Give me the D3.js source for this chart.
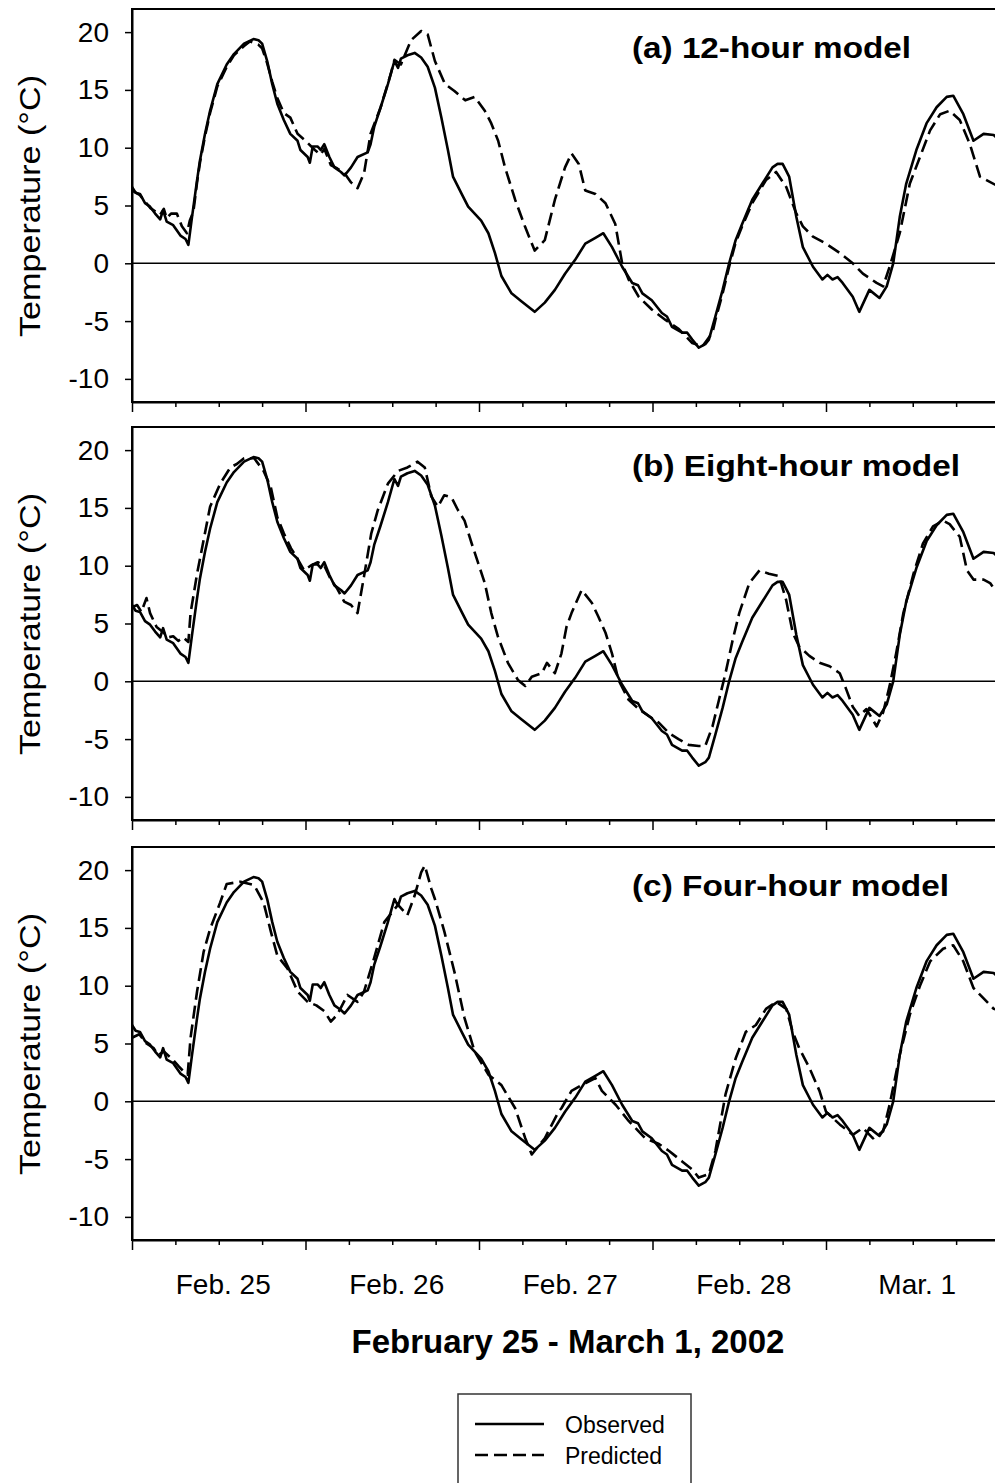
<!DOCTYPE html>
<html><head><meta charset="utf-8">
<script src="https://cdn.jsdelivr.net/npm/d3@7"></script>
<style>
body{margin:0;background:#fff;}
svg text{font-family:"Liberation Sans",Arial,Helvetica,sans-serif;fill:#000;}
</style>
</head><body>
<svg id="chart" width="995" height="1483"></svg>
<script>
// ---------- data: [hour since Feb 25 00:00, temperature °C] ----------
const observed = [[0,6.6],[0.5,6.1],[1.1,6.0],[1.8,5.2],[2.5,4.9],[3.2,4.3],[3.9,3.8],[4.3,4.6],[4.8,3.6],[5.7,3.3],[6.7,2.4],[7.4,2.1],[7.8,1.6],[8.3,4.0],[9.0,7.2],[9.4,8.9],[10.1,11.2],[10.8,13.2],[11.8,15.5],[13.1,17.2],[14.1,18.1],[15.5,19.0],[16.8,19.4],[17.5,19.3],[18.0,19.0],[18.7,17.5],[19.4,15.5],[20.1,13.8],[21.0,12.4],[21.9,11.2],[22.9,10.6],[23.3,9.8],[24.3,9.2],[24.6,8.7],[25.0,10.1],[25.7,10.1],[26.1,9.8],[26.6,10.3],[27.3,9.2],[28.0,8.3],[28.9,7.9],[29.4,7.6],[30.3,8.3],[31.2,9.2],[32.6,9.6],[33.0,10.3],[33.5,11.8],[34.4,13.5],[35.4,15.5],[36.3,17.5],[36.8,16.9],[37.2,17.7],[38.1,18.0],[39.1,18.2],[40.0,17.8],[40.9,17.0],[41.9,15.2],[42.8,12.6],[43.7,9.8],[44.4,7.5],[45.6,6.0],[46.5,4.9],[47.4,4.3],[48.3,3.7],[49.3,2.6],[50.2,0.9],[51.1,-1.1],[52.5,-2.6],[53.9,-3.3],[55.7,-4.2],[57.1,-3.4],[58.5,-2.3],[59.9,-0.9],[61.3,0.3],[62.7,1.7],[64.1,2.2],[65.2,2.6],[66.4,1.4],[67.8,-0.3],[69.2,-1.7],[70.0,-1.9],[70.6,-2.6],[71.9,-3.2],[73.3,-4.3],[74.0,-4.6],[74.7,-5.5],[76.1,-6.0],[76.8,-6.0],[77.5,-6.6],[78.4,-7.3],[79.3,-7.0],[79.8,-6.6],[80.7,-4.6],[81.7,-2.3],[82.6,0],[83.5,2.0],[84.4,3.4],[85.8,5.5],[87.2,6.9],[88.6,8.3],[89.3,8.6],[90.0,8.6],[90.5,8.0],[90.9,7.5],[91.9,4.0],[92.8,1.4],[94.2,-0.3],[95.5,-1.4],[96.2,-1.0],[96.9,-1.4],[97.6,-1.2],[98.3,-1.7],[99.7,-2.9],[100.6,-4.2],[102.0,-2.3],[103.4,-3.0],[104.4,-2.0],[105.3,0],[106.2,4.0],[107.1,6.9],[108.5,9.8],[109.9,12.1],[111.3,13.5],[112.7,14.4],[113.6,14.5],[115.0,12.9],[116.4,10.6],[117.8,11.2],[119.2,11.1],[120,10.6]];

const predicted12h = [[0,6.3],[1.1,5.9],[2.5,4.8],[3.9,4.2],[4.4,4.7],[4.8,3.9],[5.4,4.3],[6.2,4.3],[6.9,3.2],[7.6,2.6],[8.0,3.7],[8.5,4.5],[9.0,7.0],[9.4,8.7],[10.1,11.0],[10.8,13.0],[11.8,15.3],[13.1,17.0],[14.1,18.0],[15.5,18.8],[16.3,19.2],[17.5,18.9],[18.0,18.6],[18.7,17.3],[19.4,15.7],[20.1,14.3],[21.0,13.0],[21.9,12.6],[22.9,11.2],[24.0,10.6],[25.3,9.8],[26.1,9.4],[26.6,9.9],[27.5,8.5],[28.4,8.2],[29.4,7.8],[30.3,7.0],[31.2,6.5],[32.1,7.8],[33.0,11.2],[34.4,13.5],[35.8,16.4],[36.3,17.6],[37.2,17.2],[38.6,19.3],[40.0,20.1],[40.9,19.8],[41.9,17.5],[43.3,15.5],[44.6,14.9],[46.1,14.1],[47.4,14.4],[48.8,13.2],[49.7,12.1],[50.65,10.6],[51.6,8.3],[53.0,5.5],[54.35,3.2],[55.7,1.1],[57.1,2.0],[58.5,5.5],[59.9,8.3],[60.8,9.5],[61.8,8.6],[62.7,6.3],[64.1,6.0],[65.5,5.2],[66.85,3.4],[67.8,0],[68.7,-1.4],[70.1,-2.9],[71.9,-4.0],[73.8,-4.9],[75.65,-5.7],[77.5,-6.9],[78.9,-7.2],[80.3,-6.0],[80.7,-4.9],[81.7,-2.6],[82.6,-0.3],[83.5,1.8],[84.4,3.2],[85.8,5.2],[87.7,7.2],[89.1,7.9],[90.5,6.6],[91.9,4.3],[92.8,3.2],[94.2,2.3],[96.0,1.7],[97.9,0.9],[99.7,0],[101.1,-0.9],[103.0,-1.7],[103.9,-2.0],[104.8,-0.3],[106.2,2.6],[107.6,6.9],[109.0,9.2],[110.4,11.5],[111.8,12.9],[113.1,13.2],[114.5,12.4],[115.9,10.3],[117.3,7.5],[118.2,7.2],[120,6.6]];

const predicted8h = [[0,6.4],[0.7,6.6],[1.3,6.0],[2.0,7.2],[2.5,5.9],[3.4,4.7],[4.4,4.2],[5.0,3.8],[5.7,3.9],[6.4,3.5],[7.1,3.8],[7.8,3.4],[8.1,5.9],[9.0,9.3],[9.9,12.2],[10.8,15.1],[12.2,17.1],[13.6,18.5],[14.5,18.8],[15.5,19.3],[16.9,19.3],[18.2,18.2],[19.2,16.8],[20.1,14.2],[21.0,12.8],[22.0,11.5],[22.9,10.6],[23.8,9.6],[24.7,10.0],[25.7,10.3],[26.6,10.0],[27.5,8.8],[28.4,8.0],[29.35,6.9],[30.3,6.6],[31.2,5.9],[32.1,9.1],[33.1,12.8],[34.0,14.8],[35.4,17.1],[36.8,18.2],[38.1,18.5],[39.5,19.0],[40.5,18.5],[41.4,16.0],[42.3,15.1],[43.2,16.1],[44.2,15.9],[45.1,14.8],[46.0,13.9],[47.0,11.9],[47.9,10.2],[48.8,8.5],[49.7,5.9],[50.6,3.9],[52.0,1.6],[53.4,0.1],[54.4,-0.4],[55.3,0.4],[56.7,0.7],[57.4,1.6],[58.5,0.7],[59.4,2.4],[60.1,4.7],[60.8,5.9],[62.2,7.9],[63.6,6.8],[64.5,5.6],[65.5,4.2],[66.4,2.4],[67.3,0.1],[68.7,-1.6],[70.1,-2.4],[71.5,-3.0],[72.9,-3.6],[74.3,-4.5],[75.6,-5.0],[77.0,-5.5],[78.4,-5.6],[79.3,-5.6],[80.3,-3.9],[81.2,-1.6],[82.1,0.7],[83.1,3.6],[84.0,5.9],[85.4,8.5],[86.8,9.6],[88.1,9.3],[89.5,9.1],[90.5,7.0],[91.4,4.2],[92.3,3.0],[93.7,2.2],[95.1,1.6],[96.5,1.3],[97.9,0.7],[98.8,-0.7],[99.7,-2.2],[100.6,-3.0],[101.6,-2.4],[103.0,-3.9],[103.9,-2.7],[104.8,-0.4],[105.7,2.4],[106.7,5.9],[108.1,9.3],[109.4,11.9],[110.8,13.4],[112.2,13.9],[113.1,13.6],[114.5,12.5],[115.5,9.6],[116.4,8.8],[117.8,8.8],[118.7,8.5],[120,7.3]];

const predicted4h = [[0,5.5],[1.0,5.8],[2.0,5.0],[3.0,4.6],[3.6,4.0],[4.4,4.3],[5.5,3.7],[6.5,3.0],[7.1,2.6],[7.7,2.3],[8.1,5.5],[9.0,9.5],[9.9,12.9],[10.8,14.9],[12.2,17.2],[13.1,18.8],[15.0,19.0],[16.9,18.7],[18.2,17.2],[19.2,14.7],[20.1,12.6],[21.5,11.5],[22.9,9.5],[24.3,8.6],[25.5,8.3],[26.6,7.8],[27.5,6.9],[28.4,7.5],[29.8,9.2],[31.2,8.6],[32.1,9.5],[33.5,12.4],[34.9,15.5],[36.8,17.0],[38.1,16.1],[39.1,17.8],[40.0,19.8],[40.5,20.4],[41.4,18.4],[41.9,17.5],[43.2,14.7],[44.6,11.2],[46.0,7.2],[47.4,4.3],[49.3,2.3],[51.1,1.4],[53.0,-0.6],[54.4,-3.2],[55.3,-4.6],[57.1,-3.2],[59.0,-0.9],[59.4,-0.6],[60.8,0.9],[62.2,1.4],[64.1,2.0],[65.0,0.9],[66.9,-0.3],[68.7,-1.7],[71.0,-3.2],[72.9,-3.7],[74.3,-4.3],[76.1,-5.2],[77.5,-5.9],[78.4,-6.6],[79.8,-6.3],[80.7,-4.3],[82.1,0.6],[83.5,3.7],[84.9,6.0],[86.3,6.6],[87.7,8.0],[89.1,8.6],[90.5,8.0],[91.4,6.0],[92.3,4.6],[93.7,2.9],[95.1,0.9],[96.0,-0.9],[97.9,-2.0],[99.7,-2.9],[101.1,-2.3],[102.5,-3.2],[103.9,-2.6],[104.8,-0.3],[106.2,4.0],[107.6,7.5],[109.0,10.0],[110.4,12.1],[112.2,13.2],[113.6,13.5],[115.0,12.1],[116.4,9.8],[117.8,8.9],[119.2,8.0],[120,7.9]];

const panelLabels = ["(a) 12-hour model", "(b) Eight-hour model", "(c) Four-hour model"];
const panelLabelWidths = [279, 328, 317];
const panelPredicted = [predicted12h, predicted8h, predicted4h];
const yTickValues = [-10, -5, 0, 5, 10, 15, 20];
const dayLabels = ["Feb. 25", "Feb. 26", "Feb. 27", "Feb. 28", "Mar. 1"];
const dayLabelHours = [12, 36, 60, 84, 108];
const xTitle = "February 25 - March 1, 2002";
const yTitle = "Temperature (°C)";
const legendNames = ["Observed", "Predicted"];

// ---------- layout ----------
const svg = d3.select("#chart");
const left = 132, right = 999.5;
const panelTops = [9, 427, 847];
const panelH = 393;
const x = d3.scaleLinear().domain([0, 120]).range([left, right]);
const DASH = "13,6";

panelTops.forEach((top, i) => {
  const y = d3.scaleLinear().domain([-12, 22]).range([top + panelH, top]);
  const g = svg.append("g");

  // frame
  g.append("rect").attr("x", left).attr("y", top)
    .attr("width", right - left).attr("height", panelH)
    .attr("fill", "none").attr("stroke", "#000").attr("stroke-width", 2);

  // zero line
  g.append("line").attr("x1", x(0)).attr("x2", x(120))
    .attr("y1", y(0)).attr("y2", y(0))
    .attr("stroke", "#000").attr("stroke-width", 1.5);

  // y axis
  const ya = g.append("g").attr("transform", `translate(${left},0)`)
    .call(d3.axisLeft(y).tickValues(yTickValues).tickSize(7).tickSizeOuter(0)
      .tickPadding(16).tickFormat(d => String(d)));
  ya.select(".domain").attr("stroke-width", 2);
  ya.selectAll(".tick line").attr("stroke-width", 1.5);
  ya.selectAll(".tick text").attr("font-size", 28).attr("font-family", "Liberation Sans, Arial, sans-serif");

  // x axis (ticks every 6 h, long ticks at day boundaries)
  const xa = g.append("g").attr("transform", `translate(0,${top + panelH})`)
    .call(d3.axisBottom(x).tickValues(d3.range(0, 121, 6)).tickSize(5).tickSizeOuter(0).tickFormat(""));
  xa.select(".domain").attr("stroke-width", 2);
  xa.selectAll(".tick line").attr("stroke-width", 1.5)
    .attr("y2", d => (d % 24 === 0 ? 10 : 5));

  // y title
  g.append("text")
    .attr("transform", `translate(40,${top + 197}) rotate(-90)`)
    .attr("text-anchor", "middle")
    .attr("font-size", 30)
    .attr("textLength", 262).attr("lengthAdjust", "spacingAndGlyphs")
    .text(yTitle);

  // panel label
  g.append("text").attr("x", 632).attr("y", top + 49)
    .attr("font-size", 30).attr("font-weight", "bold")
    .attr("textLength", panelLabelWidths[i]).attr("lengthAdjust", "spacingAndGlyphs")
    .text(panelLabels[i]);

  const line = d3.line().x(d => x(d[0])).y(d => y(d[1]));

  g.append("path").datum(panelPredicted[i]).attr("d", line)
    .attr("fill", "none").attr("stroke", "#000").attr("stroke-width", 2.6)
    .attr("stroke-dasharray", DASH).attr("stroke-linejoin", "round");

  g.append("path").datum(observed).attr("d", line)
    .attr("fill", "none").attr("stroke", "#000").attr("stroke-width", 2.6)
    .attr("stroke-linejoin", "round");

  if (i === panelTops.length - 1) {
    g.selectAll(".daylab").data(dayLabels).enter().append("text")
      .attr("x", (d, k) => x(dayLabelHours[k]) + 4.5)
      .attr("y", top + panelH + 54)
      .attr("text-anchor", "middle").attr("font-size", 28)
      .text(d => d);
  }
});

// x title
svg.append("text").attr("x", 568).attr("y", 1353)
  .attr("text-anchor", "middle").attr("font-size", 33).attr("font-weight", "bold")
  .text(xTitle);

// legend
const lg = svg.append("g");
lg.append("rect").attr("x", 458).attr("y", 1394).attr("width", 233).attr("height", 120)
  .attr("fill", "#fff").attr("stroke", "#333").attr("stroke-width", 1.5);
const legendY = [1424, 1455];
legendNames.forEach((name, k) => {
  lg.append("line").attr("x1", 475).attr("x2", 544)
    .attr("y1", legendY[k]).attr("y2", legendY[k])
    .attr("stroke", "#000").attr("stroke-width", 2.6)
    .attr("stroke-dasharray", k === 1 ? DASH : null);
  lg.append("text").attr("x", 565).attr("y", legendY[k] + 8.5)
    .attr("font-size", 23).text(name);
});
</script>
</body></html>
